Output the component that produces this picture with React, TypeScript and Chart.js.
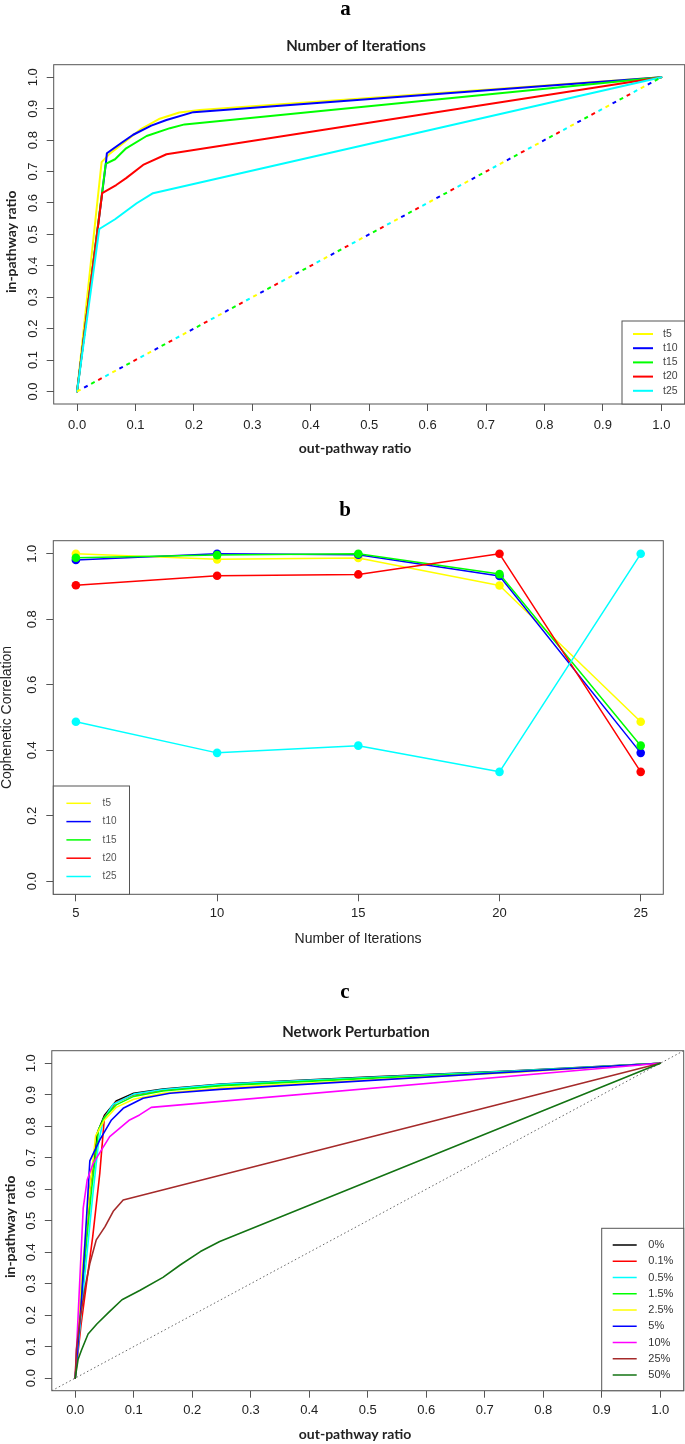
import React, { useEffect, useRef } from "react";
import { Chart, registerables } from "chart.js";
Chart.register(...registerables);

const PAGE_W = 685;
const TEXT_COLOR = "#222222";
const BOX_COLOR = "#555555";

// ================= Panel a : Number of Iterations =================
const A_NAMES = ["t5", "t10", "t15", "t20", "t25"];
const A_COLORS = ["#FFFF00", "#0000FF", "#00FF00", "#FF0000", "#00FFFF"];
const A_T5_X = [0, 0.042, 0.056, 0.08, 0.11, 0.14, 0.175, 0.21, 1];
const A_T5_Y = [0, 0.73, 0.757, 0.792, 0.836, 0.867, 0.888, 0.896, 1];
const A_T10_X = [0, 0.049, 0.051, 0.075, 0.096, 0.127, 0.153, 0.199, 1];
const A_T10_Y = [0, 0.72, 0.758, 0.79, 0.817, 0.846, 0.864, 0.889, 1];
const A_T15_X = [0, 0.049, 0.065, 0.084, 0.119, 0.159, 0.184, 1];
const A_T15_Y = [0, 0.724, 0.739, 0.774, 0.813, 0.838, 0.85, 1];
const A_T20_X = [0, 0.043, 0.067, 0.084, 0.113, 0.153, 1];
const A_T20_Y = [0, 0.631, 0.657, 0.679, 0.721, 0.755, 1];
const A_T25_X = [0, 0.038, 0.065, 0.102, 0.13, 1];
const A_T25_Y = [0, 0.517, 0.548, 0.599, 0.631, 1];
const A_RANDOM_X = [0, 1];
const A_RANDOM_Y = [0, 1];
const A_TICKS = [0, 0.1, 0.2, 0.3, 0.4, 0.5, 0.6, 0.7, 0.8, 0.9, 1.0];
const A_TICK_LABELS = ["0.0", "0.1", "0.2", "0.3", "0.4", "0.5", "0.6", "0.7", "0.8", "0.9", "1.0"];

// ================= Panel b : Cophenetic Correlation =================
const B_NAMES = ["t5", "t10", "t15", "t20", "t25"];
const B_COLORS = ["#FFFF00", "#0000FF", "#00FF00", "#FF0000", "#00FFFF"];
const B_ITERATIONS = [5, 10, 15, 20, 25];
const B_T5 = [1.0, 0.983, 0.987, 0.903, 0.487];
const B_T10 = [0.981, 1.0, 0.997, 0.932, 0.392];
const B_T15 = [0.988, 0.996, 1.0, 0.938, 0.414];
const B_T20 = [0.904, 0.933, 0.937, 1.0, 0.334];
const B_T25 = [0.487, 0.392, 0.414, 0.334, 1.0];
const B_X_TICKS = [5, 10, 15, 20, 25];
const B_X_TICK_LABELS = ["5", "10", "15", "20", "25"];
const B_Y_TICKS = [0, 0.2, 0.4, 0.6, 0.8, 1.0];
const B_Y_TICK_LABELS = ["0.0", "0.2", "0.4", "0.6", "0.8", "1.0"];

// ================= Panel c : Network Perturbation =================
const C_NAMES = ["0%", "0.1%", "0.5%", "1.5%", "2.5%", "5%", "10%", "25%", "50%"];
const C_COLORS = ["#000000", "#FF0000", "#00FFFF", "#00FF00", "#FFFF00", "#0000FF", "#FF00FF", "#A52A2A", "#137313"];
const C_P0_X = [0, 0.013, 0.025, 0.038, 0.05, 0.07, 0.1, 0.15, 0.25, 0.5, 0.75, 1];
const C_P0_Y = [0, 0.3, 0.6, 0.78, 0.835, 0.88, 0.905, 0.918, 0.934, 0.956, 0.976, 1];
const C_P01_X = [0, 0.01, 0.03, 0.042, 0.05, 0.07, 0.1, 0.15, 0.25, 0.5, 0.75, 1];
const C_P01_Y = [0, 0.17, 0.45, 0.65, 0.83, 0.876, 0.9, 0.915, 0.932, 0.954, 0.974, 1];
const C_P05_X = [0, 0.015, 0.03, 0.04, 0.048, 0.065, 0.1, 0.15, 0.25, 0.5, 0.75, 1];
const C_P05_Y = [0, 0.3, 0.58, 0.75, 0.82, 0.87, 0.902, 0.917, 0.933, 0.955, 0.975, 1];
const C_P15_X = [0, 0.012, 0.028, 0.04, 0.05, 0.07, 0.1, 0.15, 0.25, 0.5, 0.75, 1];
const C_P15_Y = [0, 0.3, 0.6, 0.79, 0.828, 0.868, 0.895, 0.912, 0.929, 0.952, 0.973, 1];
const C_P25_X = [0, 0.01, 0.025, 0.035, 0.05, 0.07, 0.1, 0.15, 0.25, 0.5, 0.75, 1];
const C_P25_Y = [0, 0.3, 0.6, 0.77, 0.82, 0.86, 0.886, 0.905, 0.922, 0.947, 0.971, 1];
const C_P5_X = [0, 0.01, 0.02, 0.025, 0.042, 0.062, 0.082, 0.116, 0.162, 0.247, 1];
const C_P5_Y = [0, 0.23, 0.53, 0.69, 0.757, 0.82, 0.857, 0.889, 0.905, 0.917, 1];
const C_P10_X = [0, 0.005, 0.0137, 0.0205, 0.031, 0.045, 0.059, 0.093, 0.11, 0.13, 1];
const C_P10_Y = [0, 0.2, 0.54, 0.63, 0.683, 0.725, 0.767, 0.82, 0.836, 0.86, 1];
const C_P25B_X = [0, 0.002, 0.008, 0.017, 0.025, 0.036, 0.051, 0.065, 0.082, 1];
const C_P25B_Y = [0, 0.09, 0.184, 0.29, 0.364, 0.439, 0.481, 0.53, 0.566, 1];
const C_P50_X = [0, 0.005, 0.011, 0.022, 0.037, 0.059, 0.08, 0.111, 0.15, 0.18, 0.214, 0.247, 1];
const C_P50_Y = [0, 0.06, 0.09, 0.14, 0.172, 0.212, 0.249, 0.279, 0.32, 0.36, 0.402, 0.434, 1];
const C_DIAG_X = [-0.04, 1.04];
const C_DIAG_Y = [-0.04, 1.04];

// ---------------------------------------------------------------
const pts = (xs: number[], ys: number[]) => xs.map((x, i) => ({ x, y: ys[i] }));

type TextItem = { text: string; x: number; y: number; font: string; rotate?: boolean; color?: string };
type LegendSpec = {
  box: [number, number, number, number];
  firstY: number; step: number; lineX0: number; lineX1: number; textX: number;
  font: string; color: string; lineWidth: number; names: string[]; colors: string[];
};
type PanelSpec = {
  top: number; height: number;
  area: { left: number; right: number; top: number; bottom: number };
  xMin: number; xMax: number; yMin: number; yMax: number;
  xTicks: number[]; xLabels: string[]; yTicks: number[]; yLabels: string[];
  xLabelOffset: number;
  datasets: any[]; texts: TextItem[]; legend: LegendSpec;
};

function rPlugin(spec: PanelSpec) {
  return {
    id: "rstyle",
    afterDraw(chart: any) {
      const ctx = chart.ctx as CanvasRenderingContext2D;
      const a = chart.chartArea;
      const T = spec.top;
      ctx.save();
      ctx.strokeStyle = BOX_COLOR;
      ctx.lineWidth = 1;
      ctx.strokeRect(a.left, a.top, a.right - a.left, a.bottom - a.top);
      // rotated y tick labels
      const ys = chart.scales.y;
      ctx.fillStyle = TEXT_COLOR;
      ctx.font = '13px "Liberation Sans"';
      ctx.textAlign = "center";
      ctx.textBaseline = "middle";
      spec.yTicks.forEach((v, i) => {
        const py = ys.getPixelForValue(v);
        ctx.save();
        ctx.translate(a.left - 20.5, py);
        ctx.rotate(-Math.PI / 2);
        ctx.fillText(spec.yLabels[i], 0, 0);
        ctx.restore();
      });
      // titles
      spec.texts.forEach((t) => {
        ctx.save();
        ctx.font = t.font;
        ctx.fillStyle = t.color || TEXT_COLOR;
        ctx.textAlign = "center";
        ctx.textBaseline = "alphabetic";
        ctx.translate(t.x, t.y - T);
        if (t.rotate) ctx.rotate(-Math.PI / 2);
        ctx.fillText(t.text, 0, 0);
        ctx.restore();
      });
      // legend
      const L = spec.legend;
      const [bx0, by0, bx1, by1] = L.box;
      ctx.fillStyle = "#ffffff";
      ctx.fillRect(bx0, by0 - T, bx1 - bx0, by1 - by0);
      ctx.strokeStyle = BOX_COLOR;
      ctx.lineWidth = 1;
      ctx.strokeRect(bx0, by0 - T, bx1 - bx0, by1 - by0);
      ctx.font = L.font;
      ctx.textAlign = "left";
      ctx.textBaseline = "middle";
      L.names.forEach((n, i) => {
        const y = L.firstY + i * L.step - T;
        ctx.strokeStyle = L.colors[i];
        ctx.lineWidth = L.lineWidth;
        ctx.beginPath();
        ctx.moveTo(L.lineX0, y);
        ctx.lineTo(L.lineX1, y);
        ctx.stroke();
        ctx.fillStyle = L.color;
        ctx.fillText(n, L.textX, y);
      });
      ctx.restore();
    },
  };
}

function buildConfig(spec: PanelSpec): any {
  const T = spec.top;
  const areaTop = spec.area.top - T;
  const areaBottom = spec.area.bottom - T;
  const lh = 13 * 1.2;
  return {
    type: "scatter",
    data: { datasets: spec.datasets },
    options: {
      responsive: false,
      maintainAspectRatio: false,
      animation: false,
      events: [],
      layout: { padding: { left: 0, right: PAGE_W - spec.area.right, top: areaTop, bottom: 0 } },
      plugins: { legend: { display: false }, tooltip: { enabled: false }, title: { display: false } },
      scales: {
        x: {
          type: "linear",
          min: spec.xMin,
          max: spec.xMax,
          afterBuildTicks: (s: any) => {
            s.ticks = spec.xTicks.map((v) => ({ value: v }));
          },
          grid: { drawOnChartArea: false, drawTicks: true, tickLength: 7, color: BOX_COLOR, lineWidth: 1 },
          border: { display: false },
          ticks: {
            autoSkip: false,
            maxRotation: 0,
            minRotation: 0,
            padding: spec.xLabelOffset - 7 - lh / 2,
            color: TEXT_COLOR,
            font: { family: "Liberation Sans", size: 13 },
            callback: (v: number) => {
              const i = spec.xTicks.findIndex((t) => Math.abs(t - v) < 1e-9);
              return i >= 0 ? spec.xLabels[i] : "";
            },
          },
          afterFit: (s: any) => {
            s.height = spec.height - areaBottom;
          },
        },
        y: {
          type: "linear",
          min: spec.yMin,
          max: spec.yMax,
          afterBuildTicks: (s: any) => {
            s.ticks = spec.yTicks.map((v) => ({ value: v }));
          },
          grid: { drawOnChartArea: false, drawTicks: true, tickLength: 7, color: BOX_COLOR, lineWidth: 1 },
          border: { display: false },
          ticks: { display: false },
          afterFit: (s: any) => {
            s.width = spec.area.left;
          },
        },
      },
    },
    plugins: [rPlugin(spec)],
  };
}

function RPanel({ spec }: { spec: PanelSpec }) {
  const ref = useRef<HTMLCanvasElement>(null);
  useEffect(() => {
    const chart = new Chart(ref.current as HTMLCanvasElement, buildConfig(spec));
    return () => chart.destroy();
  }, []);
  return (
    <canvas
      ref={ref}
      width={PAGE_W}
      height={spec.height}
      style={{ position: "absolute", left: 0, top: spec.top, width: PAGE_W, height: spec.height, display: "block" }}
    />
  );
}

// later series are drawn on top (R plotting order): higher "order" = drawn first
const lineDs = (data: any[], color: string, width: number, order: number, extra: any = {}) => ({
  data,
  showLine: true,
  borderColor: color,
  backgroundColor: color,
  borderWidth: width,
  pointRadius: 0,
  tension: 0,
  borderJoinStyle: "round",
  borderCapStyle: "round",
  order,
  ...extra,
});

// ----- Panel a spec -----
const A_CURVES = [pts(A_T5_X, A_T5_Y), pts(A_T10_X, A_T10_Y), pts(A_T15_X, A_T15_Y), pts(A_T20_X, A_T20_Y), pts(A_T25_X, A_T25_Y)];
const specA: PanelSpec = {
  top: 0,
  height: 470,
  area: { left: 53.7, right: 684.7, top: 64.7, bottom: 404 },
  xMin: -0.04, xMax: 1.04, yMin: -0.04, yMax: 1.04,
  xTicks: A_TICKS, xLabels: A_TICK_LABELS, yTicks: A_TICKS, yLabels: A_TICK_LABELS,
  xLabelOffset: 21,
  datasets: [
    ...A_CURVES.map((d, i) => lineDs(d, A_COLORS[i], 2, 100 - i)),
    ...A_COLORS.map((c, i) =>
      lineDs(pts(A_RANDOM_X, A_RANDOM_Y), c, 2, 50 - i, { borderDash: [4, 36], borderDashOffset: -8 * i, borderCapStyle: "butt" })
    ),
  ],
  texts: [
    { text: "a", x: 345.5, y: 15, font: 'bold 21px "Liberation Serif"', color: "#000" },
    { text: "Number of Iterations", x: 356, y: 51, font: "bold 15px Lato" },
    { text: "out-pathway ratio", x: 355, y: 452.5, font: "bold 14px Lato" },
    { text: "in-pathway ratio", x: 15.5, y: 241.7, font: "bold 14px Lato", rotate: true },
  ],
  legend: {
    box: [622, 321, 684.7, 404],
    firstY: 334, step: 14.2, lineX0: 633, lineX1: 653, textX: 663,
    font: '10.5px "Liberation Sans"', color: "#444", lineWidth: 2,
    names: A_NAMES, colors: A_COLORS,
  },
};

// ----- Panel b spec -----
const B_SERIES = [B_T5, B_T10, B_T15, B_T20, B_T25];
const specB: PanelSpec = {
  top: 490,
  height: 460,
  area: { left: 53.3, right: 663.3, top: 540.7, bottom: 894.3 },
  xMin: 4.2, xMax: 25.8, yMin: -0.04, yMax: 1.04,
  xTicks: B_X_TICKS, xLabels: B_X_TICK_LABELS, yTicks: B_Y_TICKS, yLabels: B_Y_TICK_LABELS,
  xLabelOffset: 19,
  datasets: B_SERIES.map((vals, i) =>
    lineDs(pts(B_ITERATIONS, vals), B_COLORS[i], 1.5, 100 - i, {
      pointRadius: 4.3,
      pointBorderWidth: 0,
      pointBackgroundColor: B_COLORS[i],
      pointHoverRadius: 4.3,
    })
  ),
  texts: [
    { text: "b", x: 345, y: 516, font: 'bold 21px "Liberation Serif"', color: "#000" },
    { text: "Number of Iterations", x: 358, y: 943, font: '14px "Liberation Sans"' },
    { text: "Cophenetic Correlation", x: 11, y: 717.5, font: '14px "Liberation Sans"', rotate: true },
  ],
  legend: {
    box: [53.3, 786, 129.5, 894.3],
    firstY: 803.3, step: 18.3, lineX0: 66.4, lineX1: 90.8, textX: 102.6,
    font: '10px "Liberation Sans"', color: "#555", lineWidth: 1.5,
    names: B_NAMES, colors: B_COLORS,
  },
};

// ----- Panel c spec -----
const C_CURVES = [
  pts(C_P0_X, C_P0_Y), pts(C_P01_X, C_P01_Y), pts(C_P05_X, C_P05_Y), pts(C_P15_X, C_P15_Y), pts(C_P25_X, C_P25_Y),
  pts(C_P5_X, C_P5_Y), pts(C_P10_X, C_P10_Y), pts(C_P25B_X, C_P25B_Y), pts(C_P50_X, C_P50_Y),
];
const specC: PanelSpec = {
  top: 970,
  height: 474,
  area: { left: 51.8, right: 683.7, top: 1050.7, bottom: 1390.7 },
  xMin: -0.04, xMax: 1.04, yMin: -0.04, yMax: 1.04,
  xTicks: A_TICKS, xLabels: A_TICK_LABELS, yTicks: A_TICKS, yLabels: A_TICK_LABELS,
  xLabelOffset: 20,
  datasets: [
    lineDs(pts(C_DIAG_X, C_DIAG_Y), "#666666", 1, 1000, { borderDash: [1.5, 2.5], borderCapStyle: "butt" }),
    ...C_CURVES.map((d, i) => lineDs(d, C_COLORS[i], 1.6, 100 - i)),
  ],
  texts: [
    { text: "c", x: 345, y: 997.7, font: 'bold 21px "Liberation Serif"', color: "#000" },
    { text: "Network Perturbation", x: 356, y: 1037, font: "bold 15px Lato" },
    { text: "out-pathway ratio", x: 355, y: 1439, font: "bold 14px Lato" },
    { text: "in-pathway ratio", x: 15, y: 1226.7, font: "bold 14px Lato", rotate: true },
  ],
  legend: {
    box: [601.7, 1228.3, 683.7, 1390.7],
    firstY: 1245, step: 16.25, lineX0: 612.7, lineX1: 636.7, textX: 648.3,
    font: '11px "Liberation Sans"', color: "#333", lineWidth: 1.5,
    names: C_NAMES, colors: C_COLORS,
  },
};

export default function App() {
  return (
    <div style={{ position: "absolute", left: 0, top: 0, width: PAGE_W, height: 1444, background: "#fff" }}>
      <RPanel spec={specA} />
      <RPanel spec={specB} />
      <RPanel spec={specC} />
    </div>
  );
}
